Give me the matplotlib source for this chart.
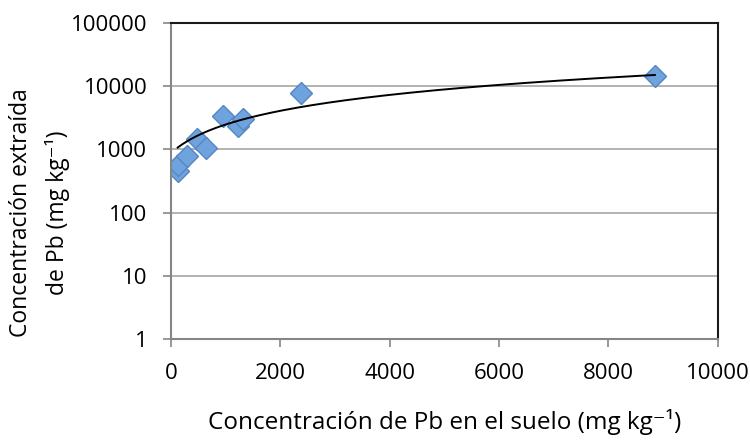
import numpy as np
import matplotlib.pyplot as plt

# Pb in soil vs Pb extracted (mg/kg)
suelo = [122, 134, 287, 470, 640, 956, 1230, 1322, 2377, 8850]
extraida = [452, 578, 783, 1441, 1064, 3378, 2344, 2994, 7740, 14400]

xticks = [0, 2000, 4000, 6000, 8000, 10000]
yticks = [1, 10, 100, 1000, 10000, 100000]

plt.rcParams['font.family'] = ['Open Sans', 'DejaVu Sans']

fig = plt.figure(figsize=(7.5, 4.46), dpi=100)
ax = fig.add_axes([0.228, 0.240, 0.729, 0.708])

ax.set_yscale('log')
ax.set_xlim(0, 10000)
ax.set_ylim(1, 100000)
ax.set_xticks(xticks)
ax.set_xticklabels([str(t) for t in xticks])
ax.set_yticks(yticks)
ax.set_yticklabels([str(t) for t in yticks])
ax.minorticks_off()

for t in yticks[1:-1]:
    ax.axhline(t, color='#a6a6a6', lw=1.2, zorder=1)

# linear trend line over the data range
coef = np.polyfit(suelo, extraida, 1)
xs = np.linspace(min(suelo), max(suelo), 200)
ax.plot(xs, np.polyval(coef, xs), color='black', lw=1.4, zorder=3)

ax.plot(suelo, extraida, linestyle='none', marker='D', markersize=11.5,
        markerfacecolor='#6fa3de', markeredgecolor='#5586c2',
        markeredgewidth=1.0, zorder=2)

for side in ['left', 'bottom']:
    ax.spines[side].set_color('#868686')
    ax.spines[side].set_linewidth(1.5)
for side in ['top', 'right']:
    ax.spines[side].set_color('#1a1a1a')
    ax.spines[side].set_linewidth(1.5)

ax.tick_params(axis='both', which='major', direction='out', length=6,
               width=1.2, color='#868686', labelsize=16, labelcolor='black')
ax.tick_params(axis='y', pad=11)
ax.tick_params(axis='x', pad=11)

ax.set_xlabel('Concentración de Pb en el suelo (mg kg\u207b\u00b9)',
              fontsize=17.5, labelpad=18)
ax.set_ylabel('Concentración extraída\nde Pb (mg kg\u207b\u00b9)',
              fontsize=16.5, linespacing=1.6)
ax.yaxis.set_label_coords(-0.185, 0.40)

fig.savefig('out.png', dpi=100)
